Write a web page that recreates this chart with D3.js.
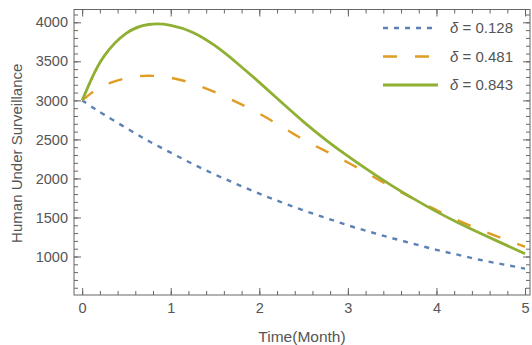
<!DOCTYPE html>
<html>
<head>
<meta charset="utf-8">
<script src="https://cdn.jsdelivr.net/npm/d3@7"></script>
<style>
  html, body { margin: 0; padding: 0; background: #fff; }
  svg { display: block; }
  text { font-family: "Liberation Sans", Arial, sans-serif; fill: #555; }
</style>
</head>
<body>
<svg id="chart" width="532" height="345"></svg>
<script>
// ---- data ----
const timeValues = [0, 0.1, 0.25, 0.5, 0.75, 1, 1.25, 1.5, 1.75, 2, 2.25, 2.5, 2.75, 3, 3.25, 3.5, 3.75, 4, 4.25, 4.5, 4.75, 5];
const delta0128 = [3000, 2925, 2815, 2645, 2480, 2330, 2185, 2050, 1925, 1805, 1695, 1590, 1495, 1400, 1315, 1235, 1160, 1085, 1020, 955, 900, 845];
const delta0481 = [3000, 3090, 3195, 3285, 3315, 3290, 3215, 3105, 2975, 2830, 2665, 2495, 2350, 2205, 2045, 1885, 1735, 1595, 1460, 1340, 1230, 1125];
const delta0843 = [3000, 3260, 3570, 3860, 3972, 3962, 3870, 3700, 3476, 3230, 2975, 2725, 2495, 2285, 2090, 1905, 1735, 1575, 1430, 1295, 1165, 1035];
const seriesNames = ["0.128", "0.481", "0.843"];
const xTickValues = [0, 1, 2, 3, 4, 5];
const yTickValues = [1000, 1500, 2000, 2500, 3000, 3500, 4000];
const xLabel = "Time(Month)";
const yLabel = "Human Under Surveillance";

(function () {
// ---- layout ----
const svg = d3.select("#chart");
const pLeft = 74, pRight = 530, pTop = 9.5, pBottom = 295;
const x = d3.scaleLinear().domain([-0.092, 5.056]).range([pLeft, pRight]);
const y = d3.scaleLinear().domain([507, 4164]).range([pBottom, pTop]);

const styles = [
  { color: "#5E81B5", dash: "5,6", width: 2.4 },
  { color: "#E19C24", dash: "14,18", width: 2.4 },
  { color: "#8FB032", dash: null, width: 2.8 }
];
const allSeries = [delta0128, delta0481, delta0843];
const axisColor = "#666";

// frame
svg.append("rect")
  .attr("x", pLeft).attr("y", pTop)
  .attr("width", pRight - pLeft).attr("height", pBottom - pTop)
  .attr("fill", "none").attr("stroke", axisColor).attr("stroke-width", 1);

const xMinor = d3.range(0, 5.0001, 0.2).map(v => +v.toFixed(2));
const yMinor = d3.range(600, 4101, 100);

function styleAxis(g) {
  g.select(".domain").remove();
  g.selectAll(".tick line").attr("stroke", axisColor);
  g.selectAll(".tick text").attr("fill", "#555").style("font-size", "14.5px")
    .style("font-family", "'Liberation Sans', Arial, sans-serif");
}

// bottom
svg.append("g").attr("transform", `translate(0,${pBottom})`)
  .call(d3.axisBottom(x).tickValues(xMinor).tickSize(-4).tickFormat(""))
  .call(styleAxis);
svg.append("g").attr("transform", `translate(0,${pBottom})`)
  .call(d3.axisBottom(x).tickValues(xTickValues).tickSize(-7).tickPadding(8).tickFormat(d3.format("d")))
  .call(styleAxis);
// top
svg.append("g").attr("transform", `translate(0,${pTop})`)
  .call(d3.axisTop(x).tickValues(xMinor).tickSize(-4).tickFormat(""))
  .call(styleAxis);
svg.append("g").attr("transform", `translate(0,${pTop})`)
  .call(d3.axisTop(x).tickValues(xTickValues).tickSize(-7).tickFormat(""))
  .call(styleAxis);
// left
svg.append("g").attr("transform", `translate(${pLeft},0)`)
  .call(d3.axisLeft(y).tickValues(yMinor).tickSize(-4).tickFormat(""))
  .call(styleAxis);
svg.append("g").attr("transform", `translate(${pLeft},0)`)
  .call(d3.axisLeft(y).tickValues(yTickValues).tickSize(-7).tickPadding(6).tickFormat(d3.format("d")))
  .call(styleAxis);
// right
svg.append("g").attr("transform", `translate(${pRight},0)`)
  .call(d3.axisRight(y).tickValues(yMinor).tickSize(-4).tickFormat(""))
  .call(styleAxis);
svg.append("g").attr("transform", `translate(${pRight},0)`)
  .call(d3.axisRight(y).tickValues(yTickValues).tickSize(-7).tickFormat(""))
  .call(styleAxis);

// curves
const line = d3.line()
  .x(d => x(d[0])).y(d => y(d[1]))
  .curve(d3.curveNatural);

svg.append("defs").append("clipPath").attr("id", "plotclip")
  .append("rect").attr("x", pLeft).attr("y", pTop).attr("width", pRight - pLeft).attr("height", pBottom - pTop);

const plot = svg.append("g").attr("clip-path", "url(#plotclip)");
allSeries.forEach((vals, i) => {
  const pts = timeValues.map((t, j) => [t, vals[j]]);
  plot.append("path")
    .attr("d", line(pts))
    .attr("fill", "none")
    .attr("stroke", styles[i].color)
    .attr("stroke-width", styles[i].width)
    .attr("stroke-dasharray", styles[i].dash);
});

// legend
const legendY = [28, 56.5, 85];
seriesNames.forEach((name, i) => {
  svg.append("line")
    .attr("x1", 383).attr("x2", 438)
    .attr("y1", legendY[i]).attr("y2", legendY[i])
    .attr("stroke", styles[i].color)
    .attr("stroke-width", styles[i].width)
    .attr("stroke-dasharray", styles[i].dash);
  const t = svg.append("text")
    .attr("x", 450).attr("y", legendY[i] + 5.2)
    .style("font-size", "15px");
  t.append("tspan").style("font-style", "italic").text("δ");
  t.append("tspan").text(" = " + name);
});

// axis titles
svg.append("text")
  .attr("x", (pLeft + pRight) / 2).attr("y", 342)
  .attr("text-anchor", "middle")
  .style("font-size", "15.5px")
  .text(xLabel);

svg.append("text")
  .attr("transform", `translate(21.5,${(pTop + pBottom) / 2 + 1}) rotate(-90)`)
  .attr("text-anchor", "middle")
  .style("font-size", "15px")
  .text(yLabel);
})();
</script>
</body>
</html>
